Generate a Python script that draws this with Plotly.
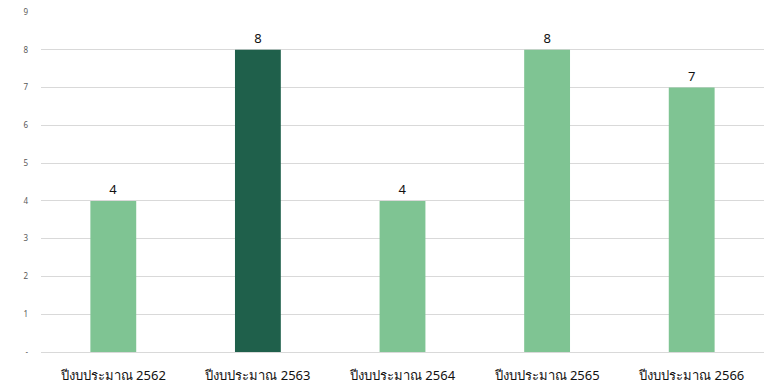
import plotly.graph_objects as go

categories = ["ปีงบประมาณ 2562", "ปีงบประมาณ 2563", "ปีงบประมาณ 2564", "ปีงบประมาณ 2565", "ปีงบประมาณ 2566"]
values = [4, 8, 4, 8, 7]
bar_colors = ["#7FC493", "#1F604B", "#7FC493", "#7FC493", "#7FC493"]
y_tickvals = [0, 1, 2, 3, 4, 5, 6, 7, 8, 9]
y_ticktext = ["-", "1", "2", "3", "4", "5", "6", "7", "8", "9"]

fig = go.Figure(go.Bar(
    x=categories, y=values,
    marker=dict(color=bar_colors, line=dict(width=0)),
    width=0.317,
    text=[str(v) for v in values], textposition="outside",
    textfont=dict(size=13, color="#111111", family="Noto Sans"),
    cliponaxis=False,
))
fig.update_layout(
    width=764, height=383,
    margin=dict(l=41, r=0, t=12, b=31, autoexpand=False),
    plot_bgcolor="white", paper_bgcolor="white",
    showlegend=False,
    font=dict(family="Noto Sans"),
    bargap=0.683,
)
fig.update_xaxes(showgrid=False, showline=False, ticks="", automargin=False,
                 ticklabelstandoff=14,
                 tickfont=dict(size=13, color="#111111", family="Noto Sans"))
fig.update_yaxes(range=[0, 9], tickvals=y_tickvals, ticktext=y_ticktext,
                 showgrid=True, gridcolor="#D9D9D9", gridwidth=1,
                 zeroline=True, zerolinecolor="#D9D9D9", zerolinewidth=1,
                 showline=False, ticks="", ticklabelstandoff=12, automargin=False,
                 tickfont=dict(size=8, color="#595959", family="Noto Sans"))
fig.write_html(
    "out.html",
    config={"displayModeBar": False},
    post_script="document.body.style.margin='0';document.body.style.overflow='hidden';",
)
